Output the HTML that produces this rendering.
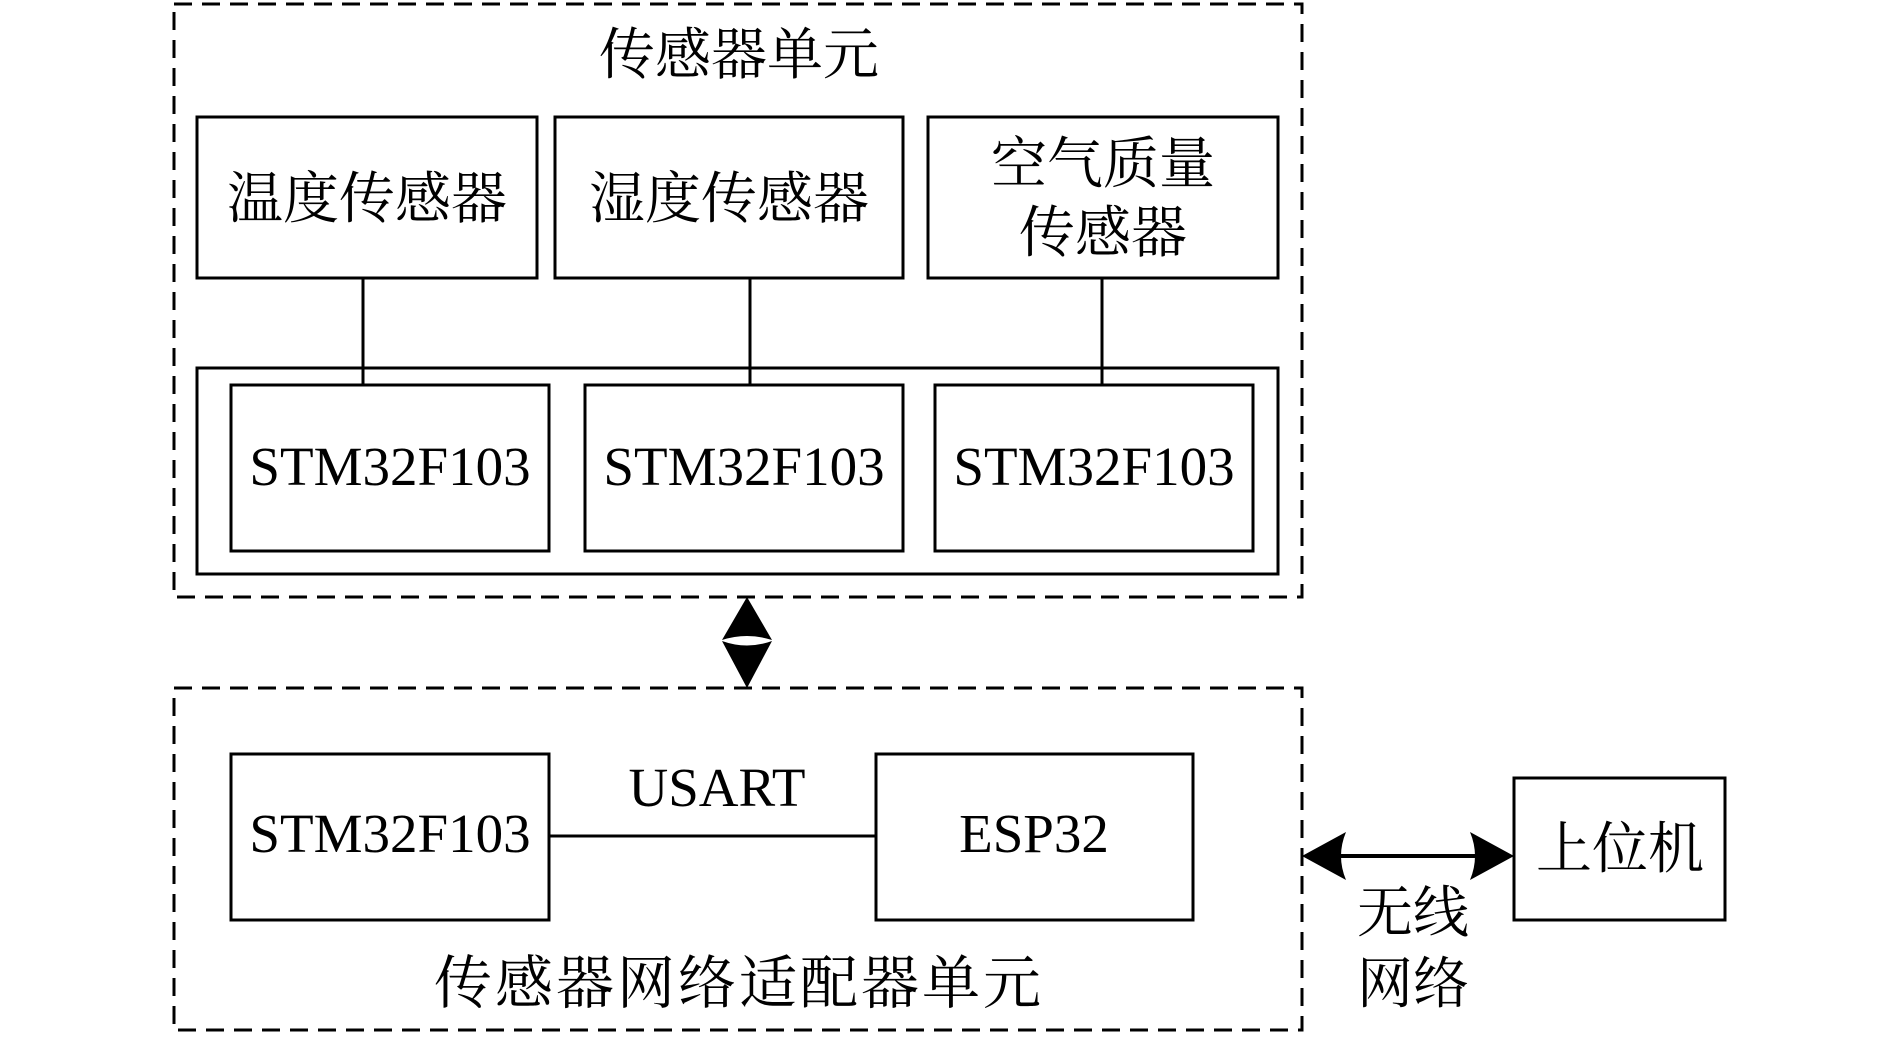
<!DOCTYPE html>
<html><head><meta charset="utf-8"><style>
body{margin:0;background:#fff}
svg text{font-family:"Liberation Serif","Noto Serif CJK SC","Noto Sans CJK SC",serif;fill:#000}
</style></head><body>
<svg width="1890" height="1034" xmlns="http://www.w3.org/2000/svg">
<g fill="none" stroke="#000" stroke-width="3">
<rect x="174" y="4" width="1128" height="593" stroke-dasharray="18,10"/>
<rect x="174" y="688" width="1128" height="342" stroke-dasharray="18,10"/>
<rect x="197" y="117" width="340" height="161"/>
<rect x="555" y="117" width="348" height="161"/>
<rect x="928" y="117" width="350" height="161"/>
<rect x="197" y="368" width="1081" height="206"/>
<rect x="231" y="385" width="318" height="166"/>
<rect x="585" y="385" width="318" height="166"/>
<rect x="935" y="385" width="318" height="166"/>
<line x1="363" y1="278" x2="363" y2="385"/>
<line x1="750" y1="278" x2="750" y2="385"/>
<line x1="1102" y1="278" x2="1102" y2="385"/>
<rect x="231" y="754" width="318" height="166"/>
<rect x="876" y="754" width="317" height="166"/>
<line x1="549" y1="836" x2="876" y2="836"/>
<rect x="1514" y="778" width="211" height="142"/>
<line x1="1320" y1="856" x2="1496" y2="856" stroke-width="4"/>
</g>
<g fill="#000">
<path d="M747 597 L772 640 Q747 632 722 640 Z"/>
<path d="M747 688 L772 641 Q747 650 722 641 Z"/>
<path d="M1302 856 L1346 832 Q1336 856 1346 880 Z"/>
<path d="M1514 856 L1470 832 Q1480 856 1470 880 Z"/>
</g>
<g text-anchor="middle" font-size="56">
<text x="739" y="74">传感器单元</text>
<text x="367" y="218">温度传感器</text>
<text x="729" y="218">湿度传感器</text>
<text x="1103" y="183">空气质量</text>
<text x="1103" y="252">传感器</text>
<text x="390" y="485" font-size="55">STM32F103</text>
<text x="744" y="485" font-size="55">STM32F103</text>
<text x="1094" y="485" font-size="55">STM32F103</text>
<text x="390" y="852" font-size="55">STM32F103</text>
<text x="1034" y="852" font-size="55">ESP32</text>
<text x="717" y="806" font-size="55">USART</text>
<text x="739" y="1003" font-size="58" letter-spacing="3">传感器网络适配器单元</text>
<text x="1413" y="932">无线</text>
<text x="1413" y="1003">网络</text>
<text x="1620" y="868">上位机</text>
</g>
</svg>
</body></html>
